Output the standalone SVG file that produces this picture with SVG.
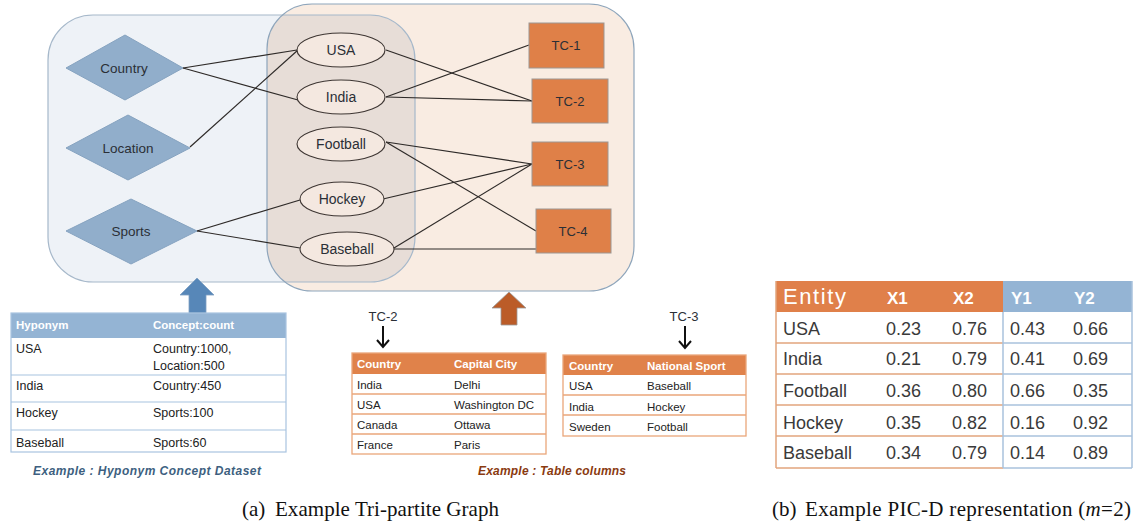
<svg xmlns="http://www.w3.org/2000/svg" width="1134" height="521" viewBox="0 0 1134 521">
<style>
.lbl{font-family:"Liberation Sans",Arial,sans-serif;fill:#2b2f36;text-anchor:middle}
.dia{fill:#91aecb;stroke:#86a3c0;stroke-width:1}
.ell{fill:#f4e8e0;stroke:#3e3633;stroke-width:1.1}
.tc{fill:#df8048;stroke:#9d9692;stroke-width:1}
.edge{stroke:#2e2a28;stroke-width:1.2;fill:none}
.t{font-family:"Liberation Sans",Arial,sans-serif;fill:#222;font-size:11.5px}
.t2{font-family:"Liberation Sans",Arial,sans-serif;fill:#222;font-size:12.5px}
.th{font-family:"Liberation Sans",Arial,sans-serif;fill:#fff;font-size:11.5px;font-weight:bold}
.p{font-family:"Liberation Sans",Arial,sans-serif;fill:#3a3a3a;font-size:18px}
.ph{font-family:"Liberation Sans",Arial,sans-serif;fill:#fff;font-size:17px;font-weight:bold}
.cap{font-family:"Liberation Serif","Times New Roman",serif;fill:#111;font-size:21px}
</style>
<defs>
<clipPath id="peachClip"><rect x="267" y="4" width="367" height="287" rx="45"/></clipPath>
</defs>
<rect width="1134" height="521" fill="#fff"/>
<g id="regions">
<rect x="267" y="4" width="367" height="287" rx="45" fill="#f9ece2"/>
<rect x="48" y="15" width="367" height="267" rx="45" fill="#eef2f7"/>
<rect x="48" y="15" width="367" height="267" rx="45" fill="#e7ddd7" clip-path="url(#peachClip)"/>
<rect x="48" y="15" width="367" height="267" rx="45" fill="none" stroke="#a6b8ca" stroke-width="1.2"/>
<rect x="267" y="4" width="367" height="287" rx="45" fill="none" stroke="#8ea5bb" stroke-width="1.2"/>
</g>
<g id="connectors">
<line class="edge" x1="183" y1="68" x2="297" y2="50"/>
<line class="edge" x1="183" y1="68" x2="298" y2="100"/>
<line class="edge" x1="190" y1="147" x2="298" y2="50"/>
<line class="edge" x1="197" y1="231" x2="300" y2="200"/>
<line class="edge" x1="197" y1="231" x2="300" y2="248"/>
<line class="edge" x1="386" y1="50" x2="532" y2="101"/>
<line class="edge" x1="386" y1="97" x2="529" y2="45"/>
<line class="edge" x1="386" y1="97" x2="532" y2="101"/>
<line class="edge" x1="386" y1="142" x2="532" y2="164"/>
<line class="edge" x1="386" y1="142" x2="536" y2="231"/>
<line class="edge" x1="383" y1="199" x2="532" y2="164"/>
<line class="edge" x1="394" y1="248" x2="532" y2="164"/>
<line class="edge" x1="394" y1="249" x2="536" y2="249"/>
</g>
<g id="country"><polygon class="dia" points="66,68 125,35 183,68 125,100"/><text class="lbl" x="124" y="73" font-size="13.5">Country</text></g>
<g id="location"><polygon class="dia" points="66,148 128,115 190,148 128,180"/><text class="lbl" x="128" y="153" font-size="13.5">Location</text></g>
<g id="sports"><polygon class="dia" points="66,231 131,199 197,231 131,264"/><text class="lbl" x="131" y="236" font-size="13.5">Sports</text></g>
<g id="usa"><ellipse class="ell" cx="341" cy="50" rx="44" ry="17"/><text class="lbl" x="341" y="55" font-size="14">USA</text></g>
<g id="india"><ellipse class="ell" cx="341" cy="97" rx="44" ry="17"/><text class="lbl" x="341" y="102" font-size="14">India</text></g>
<g id="football"><ellipse class="ell" cx="341" cy="144" rx="44" ry="17"/><text class="lbl" x="341" y="149" font-size="14">Football</text></g>
<g id="hockey"><ellipse class="ell" cx="342" cy="199" rx="42" ry="17"/><text class="lbl" x="342" y="204" font-size="14">Hockey</text></g>
<g id="baseball"><ellipse class="ell" cx="347" cy="249" rx="47" ry="17"/><text class="lbl" x="347" y="254" font-size="14">Baseball</text></g>
<g id="tc1"><rect class="tc" x="529" y="23" width="75" height="45"/><text class="lbl" x="566" y="50" font-size="13">TC-1</text></g>
<g id="tc2"><rect class="tc" x="532" y="79" width="76" height="44"/><text class="lbl" x="570" y="106" font-size="13">TC-2</text></g>
<g id="tc3"><rect class="tc" x="532" y="142" width="76" height="44"/><text class="lbl" x="570" y="169" font-size="13">TC-3</text></g>
<g id="tc4"><rect class="tc" x="536" y="209" width="75" height="44"/><text class="lbl" x="573" y="236" font-size="13">TC-4</text></g>
<g id="arrow-blue"><polygon points="197,278 214,295 206,295 206,313 189,313 189,295 180,295" fill="#5787b8" stroke="#7fa0c2" stroke-width="0.8"/></g>
<g id="arrow-orange"><polygon points="509,292 526,308 517,308 517,325 501,325 501,308 492,308" fill="#bb5c28" stroke="#9a9a9a" stroke-width="0.8"/></g>
<g id="hyponym-table">
<rect x="11" y="313" width="275" height="25" fill="#94b4d4"/>
<rect x="11" y="313" width="275" height="139" fill="none" stroke="#a8c4e0" stroke-width="1.2"/>
<g stroke="#a8c4e0" stroke-width="1.2"><line x1="11" y1="375" x2="286" y2="375"/><line x1="11" y1="402" x2="286" y2="402"/><line x1="11" y1="430" x2="286" y2="430"/></g>
<text class="th" x="16" y="329">Hyponym</text><text class="th" x="153" y="329">Concept:count</text>
<text class="t2" x="16" y="353">USA</text><text class="t2" x="153" y="353">Country:1000,</text>
<text class="t2" x="153" y="370">Location:500</text>
<text class="t2" x="16" y="390">India</text><text class="t2" x="153" y="390">Country:450</text>
<text class="t2" x="16" y="417">Hockey</text><text class="t2" x="153" y="417">Sports:100</text>
<text class="t2" x="16" y="447">Baseball</text><text class="t2" x="153" y="447">Sports:60</text>
<text x="33" y="475" font-family="Liberation Sans,Arial,sans-serif" font-size="12" font-weight="bold" font-style="italic" fill="#3d5f80" textLength="228">Example : Hyponym Concept Dataset</text>
</g>
<g id="tc2-table">
<text x="383" y="321" class="lbl" font-size="13" fill="#111">TC-2</text>
<path d="M383,326 V346 M377,340 L383,347 L389,340" stroke="#111" stroke-width="2" fill="none"/>
<rect x="352" y="353" width="194" height="21" fill="#e0824a"/>
<rect x="352" y="353" width="194" height="101" fill="none" stroke="#eaa67a" stroke-width="1.3"/>
<g stroke="#eaa67a" stroke-width="1.3"><line x1="352" y1="394" x2="546" y2="394"/><line x1="352" y1="414" x2="546" y2="414"/><line x1="352" y1="434" x2="546" y2="434"/></g>
<text class="th" x="357" y="368">Country</text><text class="th" x="454" y="368">Capital City</text>
<text class="t" x="357" y="389">India</text><text class="t" x="454" y="389">Delhi</text>
<text class="t" x="357" y="409">USA</text><text class="t" x="454" y="409">Washington DC</text>
<text class="t" x="357" y="429">Canada</text><text class="t" x="454" y="429">Ottawa</text>
<text class="t" x="357" y="449">France</text><text class="t" x="454" y="449">Paris</text>
</g>
<g id="tc3-table">
<text x="684" y="321" class="lbl" font-size="13" fill="#111">TC-3</text>
<path d="M685,326 V347 M679,341 L685,348 L691,341" stroke="#111" stroke-width="2" fill="none"/>
<rect x="563" y="355" width="183" height="20" fill="#e0824a"/>
<rect x="563" y="355" width="183" height="81" fill="none" stroke="#eaa67a" stroke-width="1.3"/>
<g stroke="#eaa67a" stroke-width="1.3"><line x1="563" y1="395" x2="746" y2="395"/><line x1="563" y1="415" x2="746" y2="415"/></g>
<text class="th" x="569" y="370">Country</text><text class="th" x="647" y="370">National Sport</text>
<text class="t" x="569" y="390">USA</text><text class="t" x="647" y="390">Baseball</text>
<text class="t" x="569" y="411">India</text><text class="t" x="647" y="411">Hockey</text>
<text class="t" x="569" y="431">Sweden</text><text class="t" x="647" y="431">Football</text>
<text x="478" y="475" font-family="Liberation Sans,Arial,sans-serif" font-size="12" font-weight="bold" font-style="italic" fill="#8a3a10" textLength="148">Example : Table columns</text>
</g>
<g id="picd-table">
<rect x="776" y="281" width="227" height="31" fill="#e0804a"/>
<rect x="1003" y="281" width="129" height="31" fill="#94b4d4"/>
<g stroke="#e2a47c" stroke-width="1.5" fill="none">
<line x1="776" y1="281" x2="776" y2="468"/>
<line x1="776" y1="343" x2="1003" y2="343"/><line x1="776" y1="374" x2="1003" y2="374"/><line x1="776" y1="405" x2="1003" y2="405"/><line x1="776" y1="436" x2="1003" y2="436"/><line x1="776" y1="468" x2="1003" y2="468"/>
</g>
<g stroke="#a8c2dc" stroke-width="1.5" fill="none">
<line x1="1003" y1="312" x2="1003" y2="468"/><line x1="1132" y1="281" x2="1132" y2="468"/>
<line x1="1003" y1="343" x2="1132" y2="343"/><line x1="1003" y1="374" x2="1132" y2="374"/><line x1="1003" y1="405" x2="1132" y2="405"/><line x1="1003" y1="436" x2="1132" y2="436"/><line x1="1003" y1="468" x2="1132" y2="468"/>
</g>
<text x="783" y="304" font-family="Liberation Sans,Arial,sans-serif" font-size="22" fill="#fff" textLength="63">Entity</text>
<text class="ph" x="887" y="304">X1</text><text class="ph" x="953" y="304">X2</text><text class="ph" x="1011" y="304">Y1</text><text class="ph" x="1074" y="304">Y2</text>
<text class="p" x="783" y="335">USA</text><text class="p" x="886" y="335">0.23</text><text class="p" x="952" y="335">0.76</text><text class="p" x="1010" y="335">0.43</text><text class="p" x="1073" y="335">0.66</text>
<text class="p" x="783" y="365">India</text><text class="p" x="886" y="365">0.21</text><text class="p" x="952" y="365">0.79</text><text class="p" x="1010" y="365">0.41</text><text class="p" x="1073" y="365">0.69</text>
<text class="p" x="783" y="397">Football</text><text class="p" x="886" y="397">0.36</text><text class="p" x="952" y="397">0.80</text><text class="p" x="1010" y="397">0.66</text><text class="p" x="1073" y="397">0.35</text>
<text class="p" x="783" y="429">Hockey</text><text class="p" x="886" y="429">0.35</text><text class="p" x="952" y="429">0.82</text><text class="p" x="1010" y="429">0.16</text><text class="p" x="1073" y="429">0.92</text>
<text class="p" x="783" y="459">Baseball</text><text class="p" x="886" y="459">0.34</text><text class="p" x="952" y="459">0.79</text><text class="p" x="1010" y="459">0.14</text><text class="p" x="1073" y="459">0.89</text>
</g>
<g id="captions">
<text class="cap" x="242" y="516">(a)</text>
<text class="cap" x="275" y="516" textLength="224">Example Tri-partite Graph</text>
<text class="cap" x="772" y="516">(b)</text>
<text class="cap" x="805" y="516" textLength="326">Example PIC-D representation (<tspan font-style="italic">m</tspan>=2)</text>
</g>
</svg>
